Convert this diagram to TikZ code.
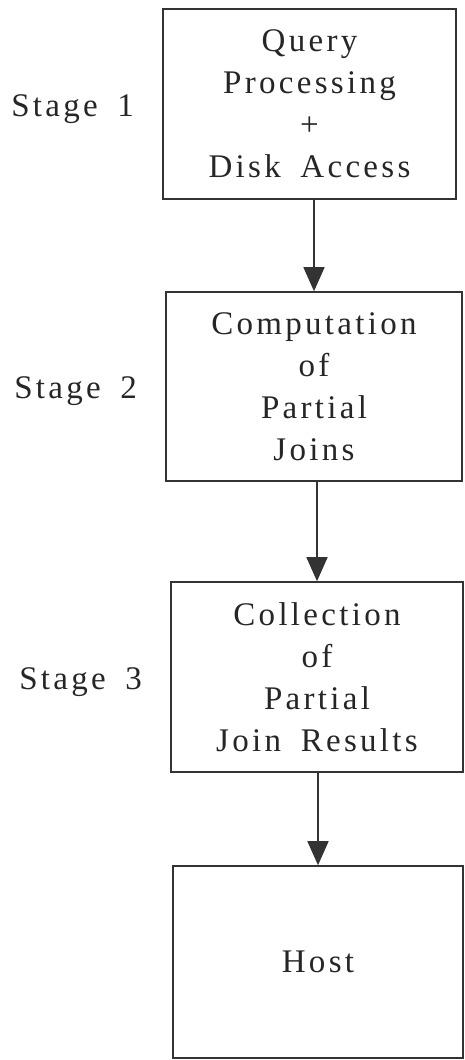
\documentclass[tikz,border=0pt]{standalone}
\usepackage{fontspec}
\setmainfont[LetterSpace=10, WordSpace=1.7]{Liberation Serif}
\usetikzlibrary{positioning,arrows.meta}

\begin{document}
\begin{tikzpicture}[x=1pt, y=-1pt, node distance=28pt,
	stagebox/.style={draw=black!80, line width=1.6pt, align=center, inner sep=0pt,
		text=black!85, font=\fontsize{33}{42}\selectfont},
	stagelabel/.style={inner sep=0pt, yshift=-5pt, text=black!85, font=\fontsize{33}{42}\selectfont},
	flow/.style={draw=black!80, line width=1.6pt, -{Triangle[width=21pt,length=24pt]}}]

	\useasboundingbox (0,0) rectangle (464,1060);

	\node[stagebox, minimum width=293pt, minimum height=190pt] (query) at (309.5,104) {Query\\Processing\\+\\Disk Access};
	\node[stagebox, minimum width=296pt, minimum height=189pt] (partial) at (314,386.5) {Computation\\of\\Partial\\Joins};
	\node[stagebox, minimum width=292pt, minimum height=190pt] (collect) at (317,677) {Collection\\of\\Partial\\Join Results};
	\node[stagebox, minimum width=290pt, minimum height=192pt] (host) at (318,962) {Host};

	\node[stagelabel, left=of query] (stageone) {Stage 1};
	\node[stagelabel, left=of partial] (stagetwo) {Stage 2};
	\node[stagelabel, left=of collect] (stagethree) {Stage 3};

	\draw[flow] (query.south -| partial.north) -- (partial.north);
	\draw[flow] (partial.south -| collect.north) -- (collect.north);
	\draw[flow] (collect.south -| host.north) -- (host.north);

\end{tikzpicture}
\end{document}
